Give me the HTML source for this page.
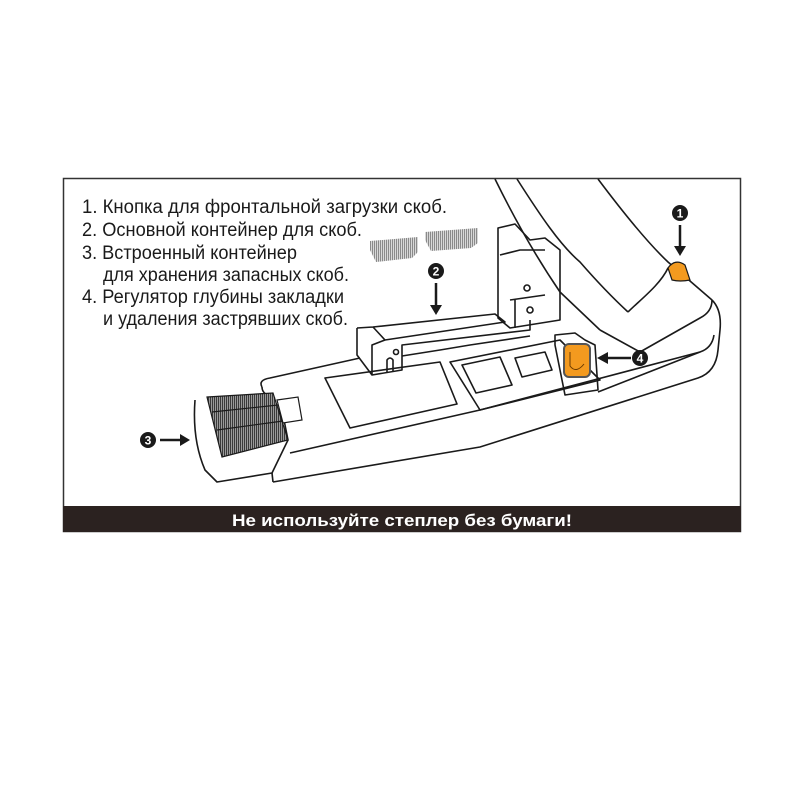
<!DOCTYPE html>
<html><head><meta charset="utf-8"><style>
html,body{margin:0;padding:0;background:#fff;width:800px;height:800px;overflow:hidden}
svg{display:block}
</style></head><body>
<svg width="800" height="800" viewBox="0 0 800 800" xmlns="http://www.w3.org/2000/svg">
<defs>
<pattern id="hatch" width="2" height="2" patternUnits="userSpaceOnUse">
<rect width="2" height="2" fill="#9a9a9a"/><rect width="1" height="2" fill="#3a3a3a"/>
</pattern>
<pattern id="hatch2" width="2" height="2" patternUnits="userSpaceOnUse">
<rect width="2" height="2" fill="#d8d8d8"/><rect width="1" height="2" fill="#8a8a8a"/>
</pattern>
</defs>
<rect x="63.5" y="178.5" width="677" height="353" fill="#fff" stroke="#333" stroke-width="1.5"/>

<g fill="none" stroke="#1a1a1a" stroke-width="1.6" stroke-linejoin="round">
<!-- upper arm -->
<path d="M495,179 C520,230 545,270 560,292 L600,330"/>
<path d="M517,179 C540,215 560,245 580,262 C600,285 615,300 628,312"/>
<path d="M598,179 C625,215 650,245 668,262 L712,300"/>
<path d="M628,312 C640,300 660,285 668,268"/>
<!-- base outer -->
<path d="M262,387 Q258,380 270,378 L360,358"/>
<path d="M712,300 Q722,310 720,330 L718,350 Q716,372 698,378 L480,447 L273,482"/>
<path d="M290,453 L480,410 L700,352 Q712,348 714,335"/>
<path d="M600,330 L640,352 L700,318 Q712,312 712,300"/>
<path d="M598,392 L700,352"/>
<!-- recess -->
<path d="M325,378 L440,362 L457,404 L350,428 Z"/>
<!-- plate area -->
<path d="M450,362 L560,340 L600,380 L480,410 Z"/>
<path d="M462,365 L500,357 L512,385 L476,393 Z"/>
<path d="M515,358 L545,352 L552,370 L522,377 Z"/>
<!-- staple container 2 -->
<path d="M357,328 L373,327 L495,314 L505,322 L385,340 L373,327"/>
<path d="M357,328 L357,355 L372,375 L402,370 L402,345 L530,330 L530,320"/>
<path d="M372,375 L372,345 L385,340"/>
<path d="M402,356 L440,350 L470,345 L530,336"/>
<path d="M387,372 L387,360 Q390,356 393,360 L393,371"/>
<circle cx="396" cy="352" r="2.5"/>
<!-- tower -->
<path d="M498,228 L515,224 L530,240 L545,238 L560,250 L560,320 L510,328 L498,318 Z"/>
<path d="M500,255 L520,250 L545,250"/>
<path d="M510,300 L545,295 M515,328 L515,300"/>
<circle cx="527" cy="288" r="3"/><circle cx="530" cy="310" r="3"/>
<!-- regulator housing -->
<path d="M555,345 L555,335 L575,333 L585,340 L595,345 L598,390 L565,395 Z"/>
<!-- staple block 3 -->
<path d="M195,400 Q192,440 205,470 L217,482 L272,473 L288,440 L280,400"/>
<path d="M262,387 Q262,395 275,398"/>
<path d="M272,473 L273,482"/>
</g>
<!-- staple block top -->
<polygon points="207,397 273,393 288,440 222,457" fill="url(#hatch)" stroke="#1a1a1a" stroke-width="1.2"/>
<path d="M212,412 L278,405 M217,430 L283,421" stroke="#1a1a1a" stroke-width="1.2" fill="none"/>
<polygon points="277,400 298,397 302,420 283,423" fill="#fff" stroke="#1a1a1a" stroke-width="1.2"/>
<!-- loose staples -->
<polygon points="370,241 418,237 418,252 412,258 376,262 370,250" fill="url(#hatch2)"/>
<polygon points="425,232 478,228 478,243 471,248 431,251 425,240" fill="url(#hatch2)"/>
<!-- orange parts -->
<path d="M668,268 Q675,258 685,265 L690,280 Q680,282 672,280 Z" fill="#f39a1f" stroke="#1a1a1a" stroke-width="1.2"/>
<rect x="564" y="344" width="26" height="33" rx="5" fill="#f39a1f" stroke="#555" stroke-width="2"/>
<path d="M570,352 L570,366 Q576,374 584,364" fill="none" stroke="#6a3a00" stroke-width="1"/>
<!-- markers -->
<g fill="#1a1a1a">
<circle cx="680" cy="213" r="8"/><circle cx="436" cy="271" r="8"/><circle cx="148" cy="440" r="8"/><circle cx="640" cy="358" r="8"/>
</g>
<g fill="#fff" font-family="Liberation Sans, sans-serif" font-weight="bold" font-size="12" text-anchor="middle">
<text x="680" y="217.5">1</text><text x="436" y="275.5">2</text><text x="148" y="444.5">3</text><text x="640" y="362.5">4</text>
</g>
<g stroke="#1a1a1a" stroke-width="2.5" fill="#1a1a1a">
<line x1="680" y1="225" x2="680" y2="248"/><polygon points="674,246 686,246 680,256" stroke="none"/>
<line x1="436" y1="283" x2="436" y2="307"/><polygon points="430,305 442,305 436,315" stroke="none"/>
<line x1="160" y1="440" x2="182" y2="440"/><polygon points="180,434 180,446 190,440" stroke="none"/>
<line x1="631" y1="358" x2="606" y2="358"/><polygon points="608,352 608,364 597,358" stroke="none"/>
</g>
<!-- text -->
<g font-family="Liberation Sans, sans-serif" font-size="19" fill="#1a1a1a" lengthAdjust="spacingAndGlyphs">
<text x="82" y="213" textLength="365" lengthAdjust="spacingAndGlyphs">1. Кнопка для фронтальной загрузки скоб.</text>
<text x="82" y="236" textLength="280" lengthAdjust="spacingAndGlyphs">2. Основной контейнер для скоб.</text>
<text x="82" y="259" textLength="215" lengthAdjust="spacingAndGlyphs">3. Встроенный контейнер</text>
<text x="103" y="281" textLength="246" lengthAdjust="spacingAndGlyphs">для хранения запасных скоб.</text>
<text x="82" y="303" textLength="262" lengthAdjust="spacingAndGlyphs">4. Регулятор глубины закладки</text>
<text x="103" y="325" textLength="245" lengthAdjust="spacingAndGlyphs">и удаления застрявших скоб.</text>
</g>
<rect x="63" y="506" width="678" height="26" fill="#2b2220"/>
<text x="402" y="526" text-anchor="middle" font-family="Liberation Sans, sans-serif" font-weight="bold" font-size="17" fill="#fff" textLength="340" lengthAdjust="spacingAndGlyphs">Не используйте степлер без бумаги!</text>
</svg>
</body></html>
